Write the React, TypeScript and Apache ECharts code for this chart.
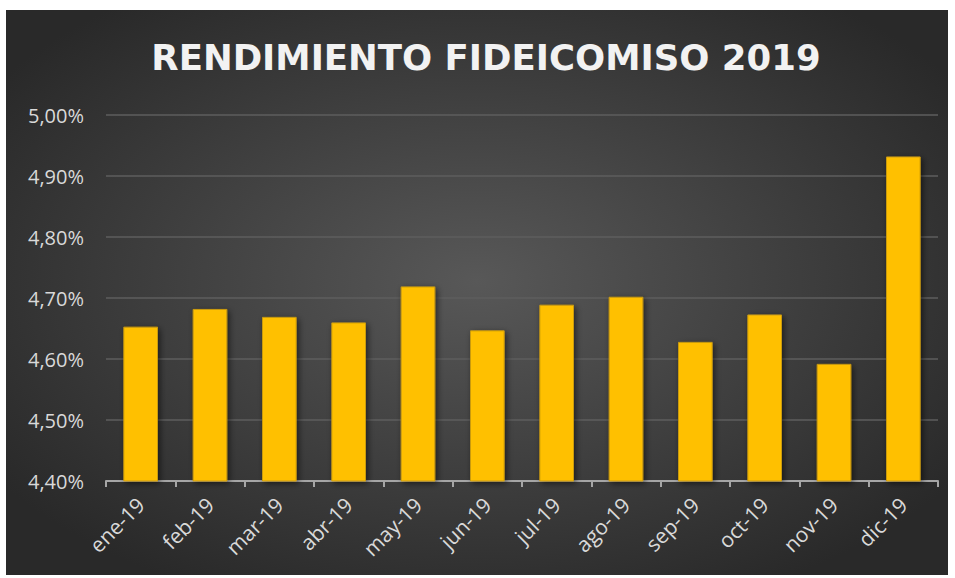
import React, { useEffect, useRef } from "react";
import * as echarts from "echarts";

const titleText = "RENDIMIENTO FIDEICOMISO 2019";
const categories = ["ene-19", "feb-19", "mar-19", "abr-19", "may-19", "jun-19", "jul-19", "ago-19", "sep-19", "oct-19", "nov-19", "dic-19"];
const values = [4.653, 4.682, 4.669, 4.66, 4.719, 4.647, 4.689, 4.702, 4.628, 4.673, 4.592, 4.932];
const yMin = 4.4;
const yMax = 5.0;
const yStep = 0.1;

export default function App() {
  const ref = useRef<HTMLDivElement>(null);
  useEffect(() => {
    if (!ref.current) return;
    const chart = echarts.init(ref.current, null, { renderer: "svg" });
    chart.setOption({
      animation: false,
      backgroundColor: {
        type: "radial",
        x: 0.5,
        y: 0.48,
        r: 0.62,
        colorStops: [
          { offset: 0, color: "#585858" },
          { offset: 1, color: "#292929" },
        ],
      },
      graphic: [
        {
          type: "text",
          x: 480,
          y: 47,
          style: {
            text: titleText,
            fill: "#f2f2f2",
            font: "bold 35.5px 'DejaVu Sans'",
            align: "center",
            verticalAlign: "middle",
            shadowColor: "rgba(0,0,0,0.7)",
            shadowBlur: 5,
            shadowOffsetX: 2,
            shadowOffsetY: 3,
          },
        },
      ],
      grid: { left: 100, right: 10, top: 105, bottom: 94, containLabel: false },
      xAxis: {
        type: "category",
        data: categories,
        axisLine: { lineStyle: { color: "#a6a6a6", width: 2 } },
        axisTick: { show: true, length: 6, lineStyle: { color: "#a6a6a6", width: 2 } },
        axisLabel: {
          rotate: 45,
          color: "#d9d9d9",
          fontFamily: "Open Sans",
          fontSize: 21,
          margin: 20,
        },
      },
      yAxis: {
        type: "value",
        min: yMin,
        max: yMax,
        interval: yStep,
        axisLine: { show: false },
        axisTick: { show: false },
        splitLine: { lineStyle: { color: "#5e5e5e", width: 1.5 } },
        axisLabel: {
          color: "#d9d9d9",
          fontFamily: "Open Sans",
          fontSize: 20,
          margin: 22,
          formatter: (v: number) => v.toFixed(2).replace(".", ",") + "%",
        },
      },
      series: [
        {
          type: "bar",
          data: values,
          barCategoryGap: "50%",
          itemStyle: {
            color: "#FFC000",
            borderColor: "#c99a10",
            borderWidth: 1,
            shadowColor: "rgba(0,0,0,0.55)",
            shadowBlur: 6,
            shadowOffsetX: 2,
            shadowOffsetY: 2,
          },
        },
      ],
    });
    return () => chart.dispose();
  }, []);
  return (
    <div style={{ position: "fixed", left: 0, top: 0, width: 955, height: 578, background: "#ffffff" }}>
      <div ref={ref} style={{ position: "absolute", left: 6, top: 10, width: 942, height: 565 }} />
    </div>
  );
}
